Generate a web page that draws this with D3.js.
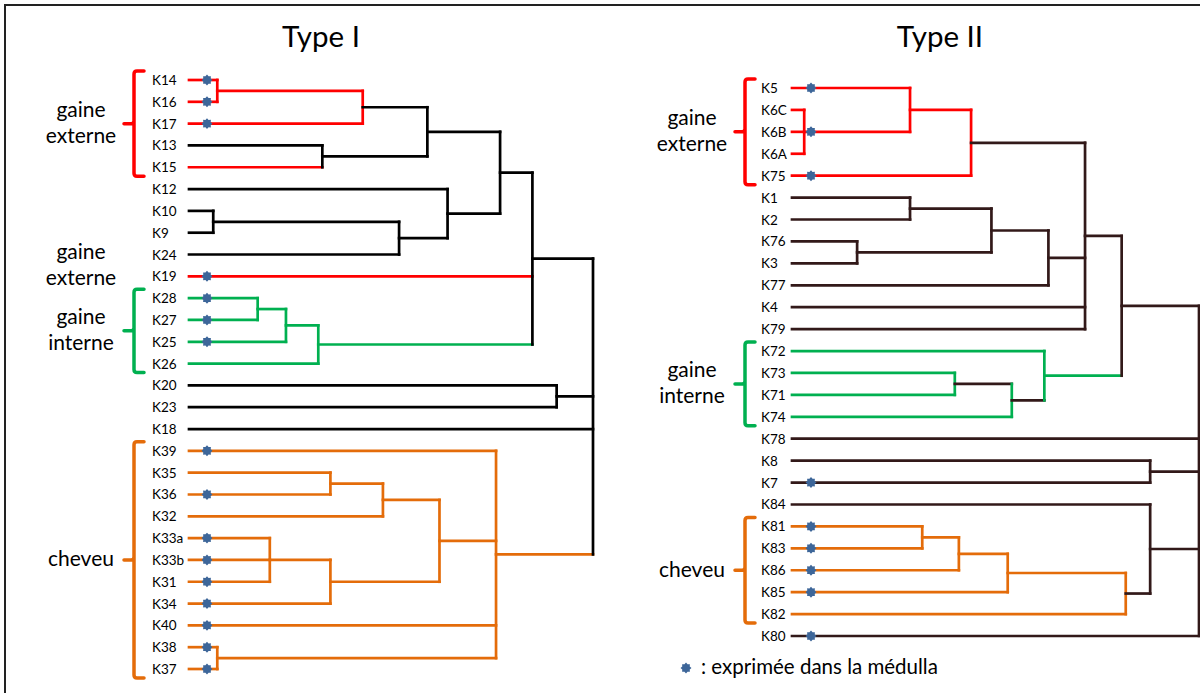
<!DOCTYPE html>
<html>
<head>
<meta charset="utf-8">
<script src="https://cdn.jsdelivr.net/npm/d3@7"></script>
<style>
  body { margin: 0; background: #fff; }
  svg { display: block; font-family: Lato, "Open Sans", sans-serif; }
</style>
</head>
<body>
<svg id="chart" width="1200" height="693"></svg>
<script>
// ---- Type I ----
const typeILeaves = ["K14","K16","K17","K13","K15","K12","K10","K9","K24","K19","K28","K27","K25","K26",
  "K20","K23","K18","K39","K35","K36","K32","K33a","K33b","K31","K34","K40","K38","K37"];
const typeIStars = ["K14","K16","K17","K19","K28","K27","K25","K39","K36","K33a","K33b","K31","K34","K40","K38","K37"];
// [node, height (0 = leaves, 1 = root), children]
const typeIMerges = [
  ["n1", 0.07, ["K14","K16"]],
  ["n2", 0.43, ["n1","K17"]],
  ["n3", 0.33, ["K13","K15"]],
  ["n4", 0.59, ["n2","n3"]],
  ["n5", 0.06, ["K10","K9"]],
  ["n6", 0.52, ["n5","K24"]],
  ["n7", 0.64, ["K12","n6"]],
  ["n8", 0.77, ["n4","n7"]],
  ["n9", 0.17, ["K28","K27"]],
  ["n10", 0.24, ["n9","K25"]],
  ["n11", 0.32, ["n10","K26"]],
  ["n12", 0.85, ["n8","K19","n11"]],
  ["n13", 0.91, ["K20","K23"]],
  ["n14", 0.35, ["K35","K36"]],
  ["n15", 0.48, ["n14","K32"]],
  ["n16", 0.20, ["K33a","K33b","K31"]],
  ["n17", 0.35, ["n16","K34"]],
  ["n18", 0.62, ["n15","n17"]],
  ["n19", 0.07, ["K38","K37"]],
  ["n20", 0.76, ["K39","n18","K40","n19"]],
  ["n21", 1.00, ["n12","n13","K18","n20"]]
];
const typeIGroups = [
  {key: "ext", label: ["gaine","externe"], first: "K14", last: "K15", bracket: true},
  {key: "ext", label: ["gaine","externe"], first: "K24", last: "K19", bracket: false},
  {key: "int", label: ["gaine","interne"], first: "K28", last: "K26", bracket: true},
  {key: "hair", label: ["cheveu"], first: "K39", last: "K37", bracket: true}
];
const typeILeafCluster = {K14:"ext",K16:"ext",K17:"ext",K15:"ext",K19:"ext",
  K28:"int",K27:"int",K25:"int",K26:"int",
  K39:"hair",K35:"hair",K36:"hair",K32:"hair",K33a:"hair",K33b:"hair",K31:"hair",K34:"hair",K40:"hair",K38:"hair",K37:"hair"};
const typeINodeCluster = {n1:"ext",n2:"ext",n9:"int",n10:"int",n11:"int",
  n14:"hair",n15:"hair",n16:"hair",n17:"hair",n18:"hair",n19:"hair",n20:"hair"};
const typeILinkCluster = {n1:"ext",n9:"int",n10:"int",n11:"int",
  n14:"hair",n15:"hair",n16:"hair",n17:"hair",n18:"hair",n19:"hair",n20:"hair"};

// ---- Type II ----
const typeIILeaves = ["K5","K6C","K6B","K6A","K75","K1","K2","K76","K3","K77","K4","K79","K72","K73","K71","K74",
  "K78","K8","K7","K84","K81","K83","K86","K85","K82","K80"];
const typeIIStars = ["K5","K6B","K75","K7","K81","K83","K86","K85","K80"];
const typeIIMerges = [
  ["m1", 0.03, ["K6C","K6B","K6A"]],
  ["m2", 0.29, ["K5","m1"]],
  ["m3", 0.44, ["m2","K75"]],
  ["m4", 0.29, ["K1","K2"]],
  ["m5", 0.16, ["K76","K3"]],
  ["m6", 0.49, ["m4","m5"]],
  ["m7", 0.63, ["m6","K77"]],
  ["m8", 0.72, ["m3","m7","K4","K79"]],
  ["m9", 0.40, ["K73","K71"]],
  ["m10", 0.54, ["m9","K74"]],
  ["m11", 0.62, ["K72","m10"]],
  ["m12", 0.81, ["m8","m11"]],
  ["m13", 0.88, ["K8","K7"]],
  ["m14", 0.32, ["K81","K83"]],
  ["m15", 0.41, ["m14","K86"]],
  ["m16", 0.53, ["m15","K85"]],
  ["m17", 0.82, ["m16","K82"]],
  ["m18", 0.88, ["K84","m17"]],
  ["m19", 1.00, ["m12","K78","m13","m18","K80"]]
];
const typeIIGroups = [
  {key: "ext", label: ["gaine","externe"], first: "K5", last: "K75", bracket: true},
  {key: "int", label: ["gaine","interne"], first: "K72", last: "K74", bracket: true},
  {key: "hair", label: ["cheveu"], first: "K81", last: "K82", bracket: true}
];
const typeIILeafCluster = {K5:"ext",K6C:"ext",K6B:"ext",K6A:"ext",K75:"ext",
  K72:"int",K73:"int",K71:"int",K74:"int",
  K81:"hair",K83:"hair",K86:"hair",K85:"hair",K82:"hair"};
const typeIINodeCluster = {m1:"ext",m2:"ext",m3:"ext",m9:"int",m10:"int",m11:"int",
  m14:"hair",m15:"hair",m16:"hair",m17:"hair"};
const typeIILinkCluster = {m1:"ext",m2:"ext",m11:"int",m14:"hair",m15:"hair",m16:"hair"};

const legendText = ": exprimée dans la médulla";

// ---- styles ----
const clusterColor = {ext: "#ff0000", int: "#00b050", hair: "#e46c0a"};
const starColor = "#3d6699";

const svg = d3.select("#chart");

svg.append("path")
  .attr("d", "M5,700 L5,5 L1205,5")
  .attr("fill", "none")
  .attr("stroke", "#222")
  .attr("stroke-width", 2);

// small 8 point star
const star8 = {
  draw(ctx, size) {
    const R = Math.sqrt(size) / 2, r = R * 0.74;
    for (let i = 0; i < 16; i++) {
      const a = i * Math.PI / 8 - Math.PI / 2, rr = i % 2 ? r : R;
      if (i === 0) ctx.moveTo(rr * Math.cos(a), rr * Math.sin(a));
      else ctx.lineTo(rr * Math.cos(a), rr * Math.sin(a));
    }
    ctx.closePath();
  }
};

function drawPanel(p, leaves, stars, merges, groups, leafCl, nodeCl, linkCl) {
  const g = svg.append("g");
  const y = d3.scalePoint().domain(leaves).range([p.y0, p.y1]);
  const x = d3.scaleLinear().domain([0, 1]).range([p.x0, p.x1]);
  const col = k => k ? clusterColor[k] : p.dark;

  const nodes = new Map();
  leaves.forEach(k => nodes.set(k, {id: k, h: 0, y: y(k), leaf: true}));
  merges.forEach(([id, h, kids]) => {
    const ch = kids.map(k => nodes.get(k));
    nodes.set(id, {id: id, h: h, children: ch, y: (ch[0].y + ch[ch.length - 1].y) / 2});
  });

  g.append("text")
    .attr("x", p.titleX).attr("y", 47)
    .attr("text-anchor", "middle")
    .attr("font-size", 29.5)
    .text(p.title);

  const links = g.append("g")
    .attr("fill", "none")
    .attr("stroke-width", 2.7)
    .attr("stroke-linecap", "square");

  merges.forEach(([id]) => {
    const n = nodes.get(id);
    n.children.forEach(c => {
      links.append("line")
        .attr("x1", x(c.h)).attr("x2", x(n.h))
        .attr("y1", c.y).attr("y2", c.y)
        .attr("stroke", c.leaf ? col(leafCl[c.id]) : col(linkCl[c.id]));
    });
    links.append("line")
      .attr("x1", x(n.h)).attr("x2", x(n.h))
      .attr("y1", n.children[0].y).attr("y2", n.children[n.children.length - 1].y)
      .attr("stroke", col(nodeCl[id]));
  });

  g.selectAll(".leaf")
    .data(leaves)
    .join("text")
    .attr("class", "leaf")
    .attr("x", p.labelX)
    .attr("y", d => y(d))
    .attr("dy", "0.37em")
    .attr("font-size", 13.5)
    .text(d => d);

  g.selectAll(".star")
    .data(stars)
    .join("path")
    .attr("class", "star")
    .attr("transform", d => `translate(${p.starX},${y(d)})`)
    .attr("d", d3.symbol().type(star8).size(120))
    .attr("fill", starColor);

  groups.forEach(gr => {
    const top = y(gr.first) - 9, bot = y(gr.last) + 9, mid = (y(gr.first) + y(gr.last)) / 2;
    const c = clusterColor[gr.key], bx = p.bracketX;
    if (gr.bracket) {
      g.append("path")
        .attr("d", `M${bx + 10},${top} L${bx + 3},${top} Q${bx},${top} ${bx},${top + 3} L${bx},${bot - 3} Q${bx},${bot} ${bx + 3},${bot} L${bx + 10},${bot}` +
                   `M${bx},${mid - 3} Q${bx},${mid} ${bx - 3},${mid} L${bx - 10},${mid}`)
        .attr("fill", "none")
        .attr("stroke", c)
        .attr("stroke-width", 3.5)
        .attr("stroke-linecap", "round");
    }
    const n = gr.label.length;
    gr.label.forEach((t, i) => {
      g.append("text")
        .attr("x", bx - 53)
        .attr("y", mid + (i - (n - 1) / 2) * 26)
        .attr("dy", "0.3em")
        .attr("text-anchor", "middle")
        .attr("font-size", 21)
        .text(t);
    });
  });
}

drawPanel({title: "Type I", titleX: 321, x0: 189, x1: 593, y0: 80, y1: 669, labelX: 152, starX: 207, bracketX: 134, dark: "#000"},
  typeILeaves, typeIStars, typeIMerges, typeIGroups, typeILeafCluster, typeINodeCluster, typeILinkCluster);
drawPanel({title: "Type II", titleX: 940, x0: 792, x1: 1199, y0: 88, y1: 636, labelX: 761, starX: 811, bracketX: 745, dark: "#321919"},
  typeIILeaves, typeIIStars, typeIIMerges, typeIIGroups, typeIILeafCluster, typeIINodeCluster, typeIILinkCluster);

// legend
svg.append("path")
  .attr("transform", "translate(686,668)")
  .attr("d", d3.symbol().type(star8).size(120))
  .attr("fill", starColor);
svg.append("text")
  .attr("x", 701).attr("y", 674)
  .attr("font-size", 20.5)
  .text(legendText);
</script>
</body>
</html>
